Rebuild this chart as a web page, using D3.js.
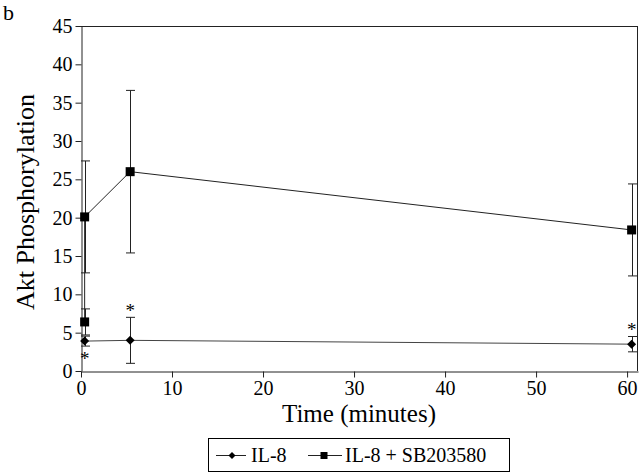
<!DOCTYPE html>
<html>
<head>
<meta charset="utf-8">
<script src="https://cdn.jsdelivr.net/npm/d3@7"></script>
<style>
  html, body { margin: 0; padding: 0; background: #fff; }
  svg { display: block; }
</style>
</head>
<body>
<svg id="chart" width="640" height="473"></svg>
<script>
// ---- data ----
const xTicks = [0, 10, 20, 30, 40, 50, 60];
const yTicks = [0, 5, 10, 15, 20, 25, 30, 35, 40, 45];
const ilTime = [0.4, 5.4, 60.5];
const ilMean = [3.9, 4.0, 3.5];
const ilErr  = [0.65, 3.0, 1.0];
const sbTime = [0.4, 0.4, 5.4, 60.5];
const sbMean = [6.4, 20.1, 26.0, 18.4];
const sbErr  = [1.7, 7.3, 10.6, 6.0];
// significance markers: index into IL-8 series and side
const starIdx  = [0, 1, 2];
const starSide = ["below", "above", "above"];
const legendLabels = ["IL-8", "IL-8 + SB203580"];

const FONT = '"Liberation Serif"';
const svg = d3.select("#chart").attr("font-family", FONT);
const L = 81, R = 638, T = 26, B = 371;
const x = d3.scaleLinear().domain([0, 61.2]).range([L, R]);
const y = d3.scaleLinear().domain([0, 45]).range([B, T]);
const ink = "#222";
const diamondType = d3.symbolDiamond2 || d3.symbolDiamond;

// box top/right
svg.append("line").attr("x1", L).attr("x2", R).attr("y1", T + 0.5).attr("y2", T + 0.5).attr("stroke", ink);
svg.append("line").attr("x1", R - 0.5).attr("x2", R - 0.5).attr("y1", T).attr("y2", B).attr("stroke", ink);

// axes
const yAxis = svg.append("g").attr("transform", `translate(${L + 0.5},0)`)
  .call(d3.axisLeft(y).tickValues(yTicks).tickSize(6).tickPadding(3).tickSizeOuter(0));
const xAxis = svg.append("g").attr("transform", `translate(0,${B + 0.5})`)
  .call(d3.axisBottom(x).tickValues(xTicks).tickSize(6).tickPadding(3).tickSizeOuter(0));
[yAxis, xAxis].forEach(g => {
  g.attr("font-family", FONT).attr("font-size", 20);
  g.selectAll("path, line").attr("stroke", ink);
  g.selectAll("text").attr("fill", "#000").attr("font-family", FONT).attr("font-size", 20);
});

// titles
svg.append("text").attr("x", 359).attr("y", 422).attr("text-anchor", "middle")
  .attr("font-family", FONT).attr("font-size", 25).text("Time (minutes)");
svg.append("text").attr("transform", "translate(34,202) rotate(-90)").attr("text-anchor", "middle")
  .attr("font-family", FONT).attr("font-size", 26).text("Akt Phosphorylation");
svg.append("text").attr("x", 3).attr("y", 20).attr("font-family", FONT).attr("font-size", 22).text("b");

const cap = 4.5;
function errorBars(times, means, errs) {
  const g = svg.append("g").attr("stroke", ink).attr("stroke-width", 1);
  times.forEach((t, i) => {
    const cx = Math.round(x(t)) + 0.5;
    const y1 = y(means[i] + errs[i]), y2 = y(means[i] - errs[i]);
    g.append("line").attr("x1", cx).attr("x2", cx).attr("y1", y1).attr("y2", y2);
    g.append("line").attr("x1", cx - cap).attr("x2", cx + cap).attr("y1", y1).attr("y2", y1);
    g.append("line").attr("x1", cx - cap).attr("x2", cx + cap).attr("y1", y2).attr("y2", y2);
  });
}
errorBars(sbTime, sbMean, sbErr);
errorBars(ilTime, ilMean, ilErr);

const line = d3.line().x(d => x(d[0])).y(d => y(d[1]));
svg.append("path").datum(sbTime.map((t, i) => [t, sbMean[i]]))
  .attr("d", line).attr("fill", "none").attr("stroke", ink).attr("stroke-width", 1);
svg.append("path").datum(ilTime.map((t, i) => [t, ilMean[i]]))
  .attr("d", line).attr("fill", "none").attr("stroke", "#444").attr("stroke-width", 1);

const sq = d3.symbol().type(d3.symbolSquare).size(81);
const dm = d3.symbol().type(diamondType).size(52);
svg.append("g").selectAll("path").data(sbTime).join("path")
  .attr("transform", (t, i) => `translate(${x(t)},${y(sbMean[i])})`).attr("d", sq).attr("fill", "#000");
svg.append("g").selectAll("path").data(ilTime).join("path")
  .attr("transform", (t, i) => `translate(${x(t)},${y(ilMean[i])})`).attr("d", dm).attr("fill", "#000");

// stars
starIdx.forEach((idx, k) => {
  const above = starSide[k] === "above";
  const end = above ? y(ilMean[idx] + ilErr[idx]) - 9.5 : y(ilMean[idx] - ilErr[idx]) + 10;
  svg.append("text").attr("x", x(ilTime[idx])).attr("y", end + 9).attr("text-anchor", "middle")
    .attr("fill", "#000").attr("font-family", FONT).attr("font-size", 19).text("*");
});

// legend
const lg = svg.append("g");
lg.append("rect").attr("x", 208.5).attr("y", 438.5).attr("width", 301).attr("height", 33)
  .attr("fill", "#fff").attr("stroke", "#000");
const ly = 455;
const items = [
  { x1: 216, x2: 246, mx: 232, tx: 251 },
  { x1: 308, x2: 342, mx: 324, tx: 345 }
];
items.forEach((it, i) => {
  lg.append("line").attr("x1", it.x1).attr("x2", it.x2).attr("y1", ly + 0.5).attr("y2", ly + 0.5).attr("stroke", ink);
  lg.append("path").attr("transform", `translate(${it.mx},${ly + 0.5})`)
    .attr("d", i === 0 ? d3.symbol().type(diamondType).size(32)() : d3.symbol().type(d3.symbolSquare).size(49)())
    .attr("fill", "#000");
  lg.append("text").attr("x", it.tx).attr("y", 462).attr("font-family", FONT).attr("font-size", 20).text(legendLabels[i]);
});
</script>
</body>
</html>
